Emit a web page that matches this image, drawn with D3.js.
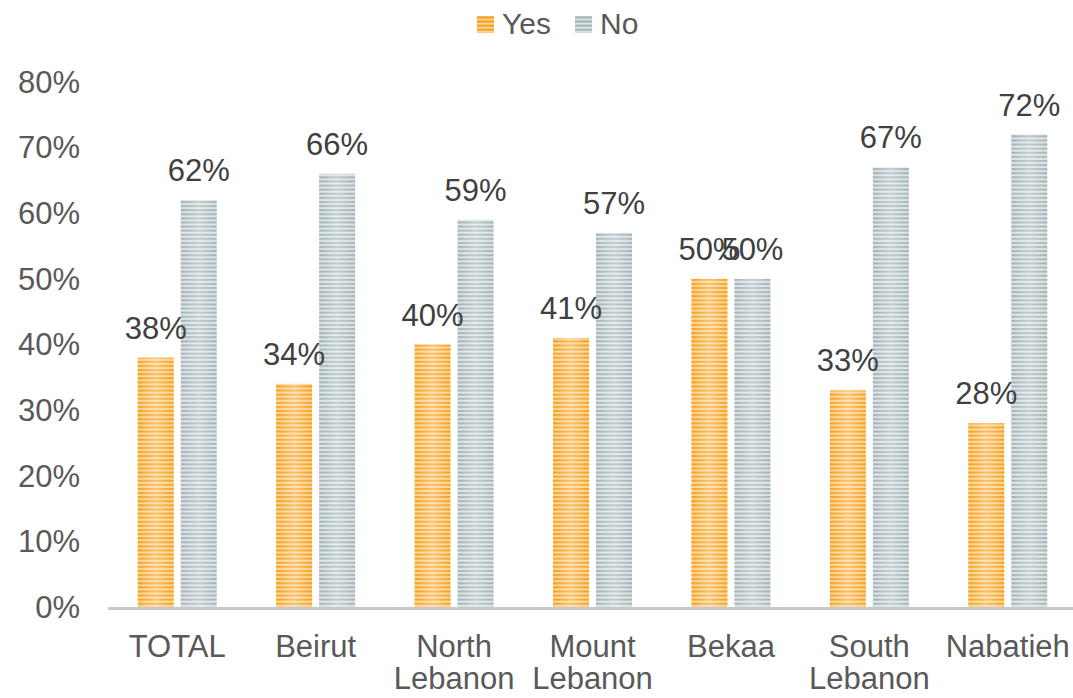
<!DOCTYPE html>
<html><head><meta charset="utf-8">
<script src="https://cdn.jsdelivr.net/npm/d3@7"></script>
<style>body{margin:0;background:#fff}svg{display:block}text{font-family:"Liberation Sans",Arial,sans-serif}</style>
</head><body><svg id="c" width="1073" height="698"></svg>
<script>
const categories = [["TOTAL"],["Beirut"],["North","Lebanon"],["Mount","Lebanon"],["Bekaa"],["South","Lebanon"],["Nabatieh"]];
const yesValues = [38,34,40,41,50,33,28];
const noValues = [62,66,59,57,50,67,72];
const seriesNames = ["Yes","No"];
const yTicks = [0,10,20,30,40,50,60,70,80];

const svg = d3.select("#c");
const defs = svg.append("defs");
function makePattern(id, dark, light){
  const g = defs.append("linearGradient").attr("id", id+"g").attr("x1","0").attr("x2","1").attr("y1","0").attr("y2","0");
  g.append("stop").attr("offset","0").attr("stop-color","#fff").attr("stop-opacity",0);
  g.append("stop").attr("offset","0.5").attr("stop-color","#fff").attr("stop-opacity",0.35);
  g.append("stop").attr("offset","1").attr("stop-color","#fff").attr("stop-opacity",0);
  const p = defs.append("pattern").attr("id", id).attr("patternUnits","userSpaceOnUse").attr("width",8).attr("height",4.1);
  p.append("rect").attr("width",8).attr("height",4.1).attr("fill",light);
  p.append("rect").attr("y",0).attr("width",8).attr("height",2.1).attr("fill",dark);
}
makePattern("pYes","#F5A01C","#FCD596");
makePattern("pNo","#A3B3B8","#DCE3E5");
const fills = ["url(#pYes)","url(#pNo)"];

const x = d3.scaleBand().domain(d3.range(categories.length)).range([108,1077]).paddingInner(0).paddingOuter(0);
const y = d3.scaleLinear().domain([0,80]).range([607,82]);
const bw = 36, gap = 7;
const FS = 31;

// y tick labels
svg.append("g").selectAll("text").data(yTicks).join("text")
  .attr("x",80).attr("y",d=>y(d)).attr("dy","0.35em").attr("text-anchor","end")
  .attr("font-size",FS).attr("fill","#595959").text(d=>d+"%");

const series = [yesValues, noValues];
series.forEach((vals, si)=>{
  const off = si===0 ? -gap/2 - bw : gap/2;
  const g = svg.append("g");
  g.selectAll("rect.b").data(vals).join("rect").attr("class","b")
    .attr("x",(d,i)=>x(i)+x.bandwidth()/2+off).attr("width",bw)
    .attr("y",d=>y(d)).attr("height",d=>y(0)-y(d)).attr("fill",fills[si]);
  g.selectAll("rect.h").data(vals).join("rect").attr("class","h")
    .attr("x",(d,i)=>x(i)+x.bandwidth()/2+off).attr("width",bw)
    .attr("y",d=>y(d)).attr("height",d=>y(0)-y(d)).attr("fill",si===0?"url(#pYesg)":"url(#pNog)");
});
// axis line
svg.append("line").attr("x1",108).attr("x2",1077).attr("y1",y(0)+1.5).attr("y2",y(0)+1.5)
  .attr("stroke","#C8C8C8").attr("stroke-width",3);

// data labels
series.forEach((vals, si)=>{
  const off = si===0 ? -gap/2 - bw/2 : gap/2 + bw/2;
  svg.append("g").selectAll("text").data(vals).join("text")
    .attr("x",(d,i)=>x(i)+x.bandwidth()/2+off).attr("y",d=>y(d)-19)
    .attr("text-anchor","middle").attr("font-size",FS).attr("fill","#404040").text(d=>d+"%");
});

// category labels
const cg = svg.append("g").selectAll("text").data(categories).join("text")
  .attr("x",(d,i)=>x(i)+x.bandwidth()/2).attr("y",657)
  .attr("text-anchor","middle").attr("font-size",FS).attr("fill","#595959");
cg.selectAll("tspan").data(d=>d).join("tspan")
  .attr("x",function(){return this.parentNode.getAttribute("x");})
  .attr("dy",(d,i)=>i===0?0:32).text(d=>d);

// legend
const legX = [477,575];
seriesNames.forEach((n,i)=>{
  svg.append("rect").attr("x",legX[i]).attr("y",16).attr("width",17).attr("height",17).attr("fill",fills[i]);
  svg.append("text").attr("x",legX[i]+25).attr("y",34).attr("font-size",30).attr("fill","#595959").text(n);
});
</script></body></html>
